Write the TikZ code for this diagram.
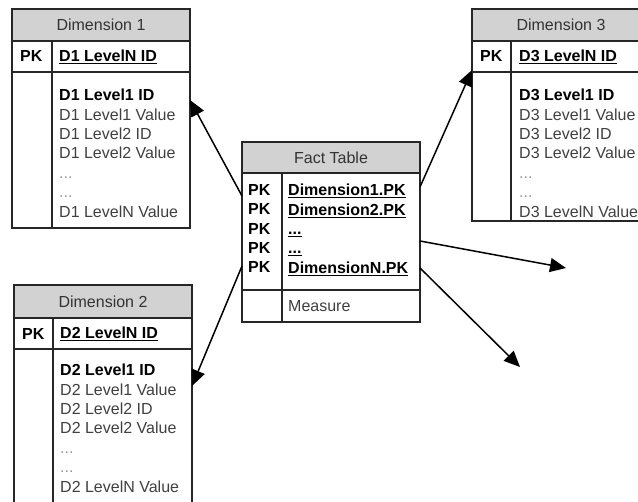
\documentclass[tikz,border=0pt]{standalone}
\usepackage{fontspec}
\setmainfont{Liberation Sans}
\usetikzlibrary{arrows.meta,positioning}

\begin{document}
\begin{tikzpicture}[
x=1pt, y=-1pt,
node distance=0pt,
font=\fontsize{16}{19.4}\selectfont,
head/.style={draw=black!85, line width=1.2pt, fill=gray!35, minimum width=178pt, minimum height=32pt, inner sep=0pt, outer sep=0pt, text=black!80},
cell/.style={draw=black!85, line width=1.2pt, fill=white, minimum width=178pt, inner sep=0pt, outer sep=0pt},
key/.style={inner sep=0pt, anchor=west, font=\fontsize{16}{19.4}\selectfont\bfseries},
items/.style={inner sep=0pt, anchor=north west, align=left, text=black!75},
split/.style={draw=black!85, line width=1.2pt},
arr/.style={-{Triangle[length=16pt,width=14pt]}, line width=1.5pt}
]
\useasboundingbox (0,0) rectangle (638,502);

% Dimension 1
\node[head, anchor=north west] (d1h) at (12,9) {Dimension 1};
\node[cell, minimum height=31pt, below=of d1h] (d1k) {};
\node[cell, minimum height=156pt, below=of d1k] (d1b) {};
\draw[split] ([xshift=40pt]d1k.north west) -- ([xshift=40pt]d1b.south west);
\node[key] (d1pk) at ([xshift=8pt]d1k.west) {PK};
\node[key] (d1id) at ([xshift=47pt]d1k.west) {\underline{D1 LevelN ID}};
\node[items] (d1l) at ([xshift=47pt,yshift=-17pt]d1b.north west) {\textcolor{black}{\bfseries D1 Level1 ID}\\D1 Level1 Value\\D1 Level2 ID\\D1 Level2 Value\\\textcolor{black!40}{...}\\\textcolor{black!40}{...}\\D1 LevelN Value};

% Dimension 3
\node[head, anchor=north west] (d3h) at (472,9) {Dimension 3};
\node[cell, minimum height=31pt, below=of d3h] (d3k) {};
\node[cell, minimum height=149pt, below=of d3k] (d3b) {};
\draw[split] ([xshift=39pt]d3k.north west) -- ([xshift=39pt]d3b.south west);
\node[key] (d3pk) at ([xshift=8pt]d3k.west) {PK};
\node[key] (d3id) at ([xshift=47pt]d3k.west) {\underline{D3 LevelN ID}};
\node[items] (d3l) at ([xshift=47pt,yshift=-17pt]d3b.north west) {\textcolor{black}{\bfseries D3 Level1 ID}\\D3 Level1 Value\\D3 Level2 ID\\D3 Level2 Value\\\textcolor{black!40}{...}\\\textcolor{black!40}{...}\\D3 LevelN Value};

% Dimension 2
\node[head, anchor=north west, minimum height=33pt] (d2h) at (14,285) {Dimension 2};
\node[cell, minimum height=31pt, below=of d2h] (d2k) {};
\node[cell, minimum height=200pt, below=of d2k] (d2b) {};
\draw[split] ([xshift=39pt]d2k.north west) -- ([xshift=39pt]d2b.south west);
\node[key] (d2pk) at ([xshift=8pt]d2k.west) {PK};
\node[key] (d2id) at ([xshift=46pt]d2k.west) {\underline{D2 LevelN ID}};
\node[items] (d2l) at ([xshift=46pt,yshift=-15pt]d2b.north west) {\textcolor{black}{\bfseries D2 Level1 ID}\\D2 Level1 Value\\D2 Level2 ID\\D2 Level2 Value\\\textcolor{black!40}{...}\\\textcolor{black!40}{...}\\D2 LevelN Value};

% Fact table
\node[head, anchor=north west, minimum height=31pt] (fh) at (242,142) {Fact Table};
\node[cell, minimum height=117pt, below=of fh] (fk) {};
\node[cell, minimum height=32pt, below=of fk] (fm) {};
\draw[split] ([xshift=40pt]fk.north west) -- ([xshift=40pt]fm.south west);
\node[items, text=black, font=\fontsize{16}{19.4}\selectfont\bfseries] (fpk) at ([xshift=6pt,yshift=-11pt]fk.north west) {PK\\PK\\PK\\PK\\PK};
\node[items, text=black, font=\fontsize{16}{19.4}\selectfont\bfseries] (fkeys) at ([xshift=46pt,yshift=-11pt]fk.north west) {\underline{Dimension1.PK}\\\underline{Dimension2.PK}\\\underline{...}\\\underline{...}\\\underline{DimensionN.PK}};
\node[key, font=\fontsize{16}{19.4}\selectfont, text=black!75] (fmeas) at ([xshift=46pt]fm.west) {Measure};

% links
\coordinate (d4) at (566,268);
\coordinate (d5) at (520,367);
\draw[arr] ([yshift=-23pt]fk.north west) -- ([yshift=-28pt]d1b.north east);
\draw[arr] ([yshift=-14pt]fk.north east) -- ([yshift=2pt]d3b.north west);
\draw[arr] ([yshift=-93pt]fk.north west) -- ([yshift=-37pt]d2b.north east);
\draw[arr] ([yshift=-68pt]fk.north east) -- (d4);
\draw[arr] ([yshift=-95pt]fk.north east) -- (d5);
\end{tikzpicture}
\end{document}
